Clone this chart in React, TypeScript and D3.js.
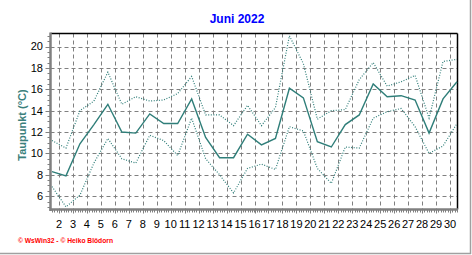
import React from "react";
import * as d3 from "d3";

const days: number[] = d3.range(1, 31);
const meanValues: number[] = [8.3, 7.9, 10.9, 12.7, 14.6, 12.0, 11.9, 13.7, 12.8, 12.8, 15.1, 11.5, 9.6, 9.6, 11.8, 10.8, 11.4, 16.1, 15.2, 11.1, 10.6, 12.7, 13.6, 16.5, 15.3, 15.4, 15.0, 11.9, 15.1, 16.7];
const maxValues: number[] = [11.2, 10.5, 14.0, 14.9, 17.6, 14.6, 15.3, 14.9, 15.0, 15.6, 17.2, 13.6, 13.6, 12.6, 14.5, 12.6, 14.3, 21.0, 18.4, 13.2, 14.0, 14.1, 16.9, 18.5, 16.3, 16.7, 17.3, 13.3, 18.6, 18.8];
const minValues: number[] = [6.9, 5.0, 6.1, 9.1, 11.4, 9.5, 9.1, 11.7, 11.2, 9.8, 13.3, 9.5, 8.0, 6.3, 8.6, 9.0, 8.5, 12.5, 12.1, 8.6, 7.2, 10.6, 10.5, 13.3, 13.9, 14.2, 12.5, 10.0, 10.7, 12.8];
const xTickLabels: number[] = d3.range(2, 31);
const yTickValues: number[] = [6, 8, 10, 12, 14, 16, 18, 20];
const title = "Juni 2022";
const yLabel = "Taupunkt  (°C)";
const credit = "© WsWin32  -  © Heiko Blödorn";

const W = 472;
const H = 255;
const LEFT = 50.5;
const RIGHT = 457.5;
const TOP = 33.5;
const BOTTOM = 209.5;
const LINE = "#2f7e79";
const GRID = "#808080";

export default function App() {
  const x = d3.scaleLinear().domain([1, 30]).range([52, 457]);
  const y = d3.scaleLinear().domain([4.8, 21.2]).range([209, 33.7]);
  const line = d3
    .line<number>()
    .x((_, i) => x(days[i]))
    .y((v) => y(v));

  const minorX: number[] = [];
  for (let t = 0.5; t <= 30.001; t += 1 / 6) {
    const px = x(t);
    if (px >= LEFT && px <= RIGHT) minorX.push(px);
  }
  const minorY: number[] = [];
  for (let v = 5; v <= 21; v += 0.5) minorY.push(y(v));

  return (
    <svg
      width={W}
      height={H}
      style={{ position: "absolute", left: 0, top: 0, background: "#fff" }}
      fontFamily="Arial, 'Liberation Sans', sans-serif"
    >
      <rect x={0} y={0} width={W} height={H} fill="#fff" />
      {/* outer frame right/bottom */}
      <line x1={470.5} y1={0} x2={470.5} y2={254} stroke="#a0a0a0" strokeWidth={1.5} />
      <line x1={0} y1={253.5} x2={471} y2={253.5} stroke="#a0a0a0" strokeWidth={1.5} />

      <text x={237} y={23} textAnchor="middle" fill="#0000ff" fontWeight="bold" fontSize={12}>
        {title}
      </text>

      {/* grid */}
      {yTickValues.map((v) => (
        <line key={"hg" + v} x1={LEFT} x2={RIGHT} y1={Math.round(y(v)) + 0.5} y2={Math.round(y(v)) + 0.5} stroke={GRID} strokeDasharray="4,3" strokeWidth={1} />
      ))}
      {xTickLabels.map((n) => (
        <line key={"vg" + n} x1={Math.round(x(n - 0.5)) + 0.5} x2={Math.round(x(n - 0.5)) + 0.5} y1={TOP} y2={BOTTOM} stroke={GRID} strokeDasharray="4,3" strokeWidth={1} />
      ))}

      {/* frame */}
      <line x1={LEFT} y1={TOP} x2={RIGHT} y2={TOP} stroke="#000" strokeWidth={1.5} />
      <line x1={RIGHT} y1={TOP} x2={RIGHT} y2={BOTTOM} stroke="#000" strokeWidth={1.5} />

      {/* series */}
      <path d={line(maxValues) || ""} fill="none" stroke={LINE} strokeWidth={1.2} strokeDasharray="1,1.6" />
      <path d={line(minValues) || ""} fill="none" stroke={LINE} strokeWidth={1.2} strokeDasharray="1,1.6" />
      <path d={line(meanValues) || ""} fill="none" stroke={LINE} strokeWidth={1.4} />

      {/* axes */}
      <line x1={LEFT} y1={TOP - 1} x2={LEFT} y2={BOTTOM + 1.5} stroke={GRID} strokeWidth={2.5} />
      <line x1={LEFT - 1} y1={BOTTOM} x2={RIGHT + 0.5} y2={BOTTOM} stroke={GRID} strokeWidth={2.5} />
      {minorX.map((px, i) => (
        <line key={"mx" + i} x1={Math.round(px) + 0.5} x2={Math.round(px) + 0.5} y1={BOTTOM} y2={BOTTOM + 3} stroke={GRID} strokeWidth={1} />
      ))}
      {xTickLabels.map((n) => (
        <line key={"xt" + n} x1={Math.round(x(n - 0.5)) + 0.5} x2={Math.round(x(n - 0.5)) + 0.5} y1={BOTTOM} y2={BOTTOM + 4} stroke={GRID} strokeWidth={1} />
      ))}
      {minorY.map((py, i) => (
        <line key={"my" + i} x1={LEFT - 3} x2={LEFT} y1={Math.round(py) + 0.5} y2={Math.round(py) + 0.5} stroke={GRID} strokeWidth={1} />
      ))}
      {yTickValues.map((v) => (
        <line key={"yt" + v} x1={LEFT - 5} x2={LEFT} y1={Math.round(y(v)) + 0.5} y2={Math.round(y(v)) + 0.5} stroke={GRID} strokeWidth={1} />
      ))}

      {/* tick labels */}
      {yTickValues.map((v) => (
        <text key={"yl" + v} x={43} y={y(v)} dy="0.36em" textAnchor="end" fontSize={11} fill="#000">
          {v}
        </text>
      ))}
      {xTickLabels.map((n) => (
        <text key={"xl" + n} x={x(n - 0.5)} y={228} textAnchor="middle" fontSize={11} fill="#000">
          {n}
        </text>
      ))}

      <text
        transform={`translate(25.5,125) rotate(-90)`}
        textAnchor="middle"
        fontSize={11}
        fontWeight="bold"
        fill="#3a807c"
      >
        {yLabel}
      </text>

      <text x={18} y={243} fontSize={7} fontWeight="bold" fill="#ff0000" textLength={95} lengthAdjust="spacingAndGlyphs">
        {credit}
      </text>
    </svg>
  );
}
